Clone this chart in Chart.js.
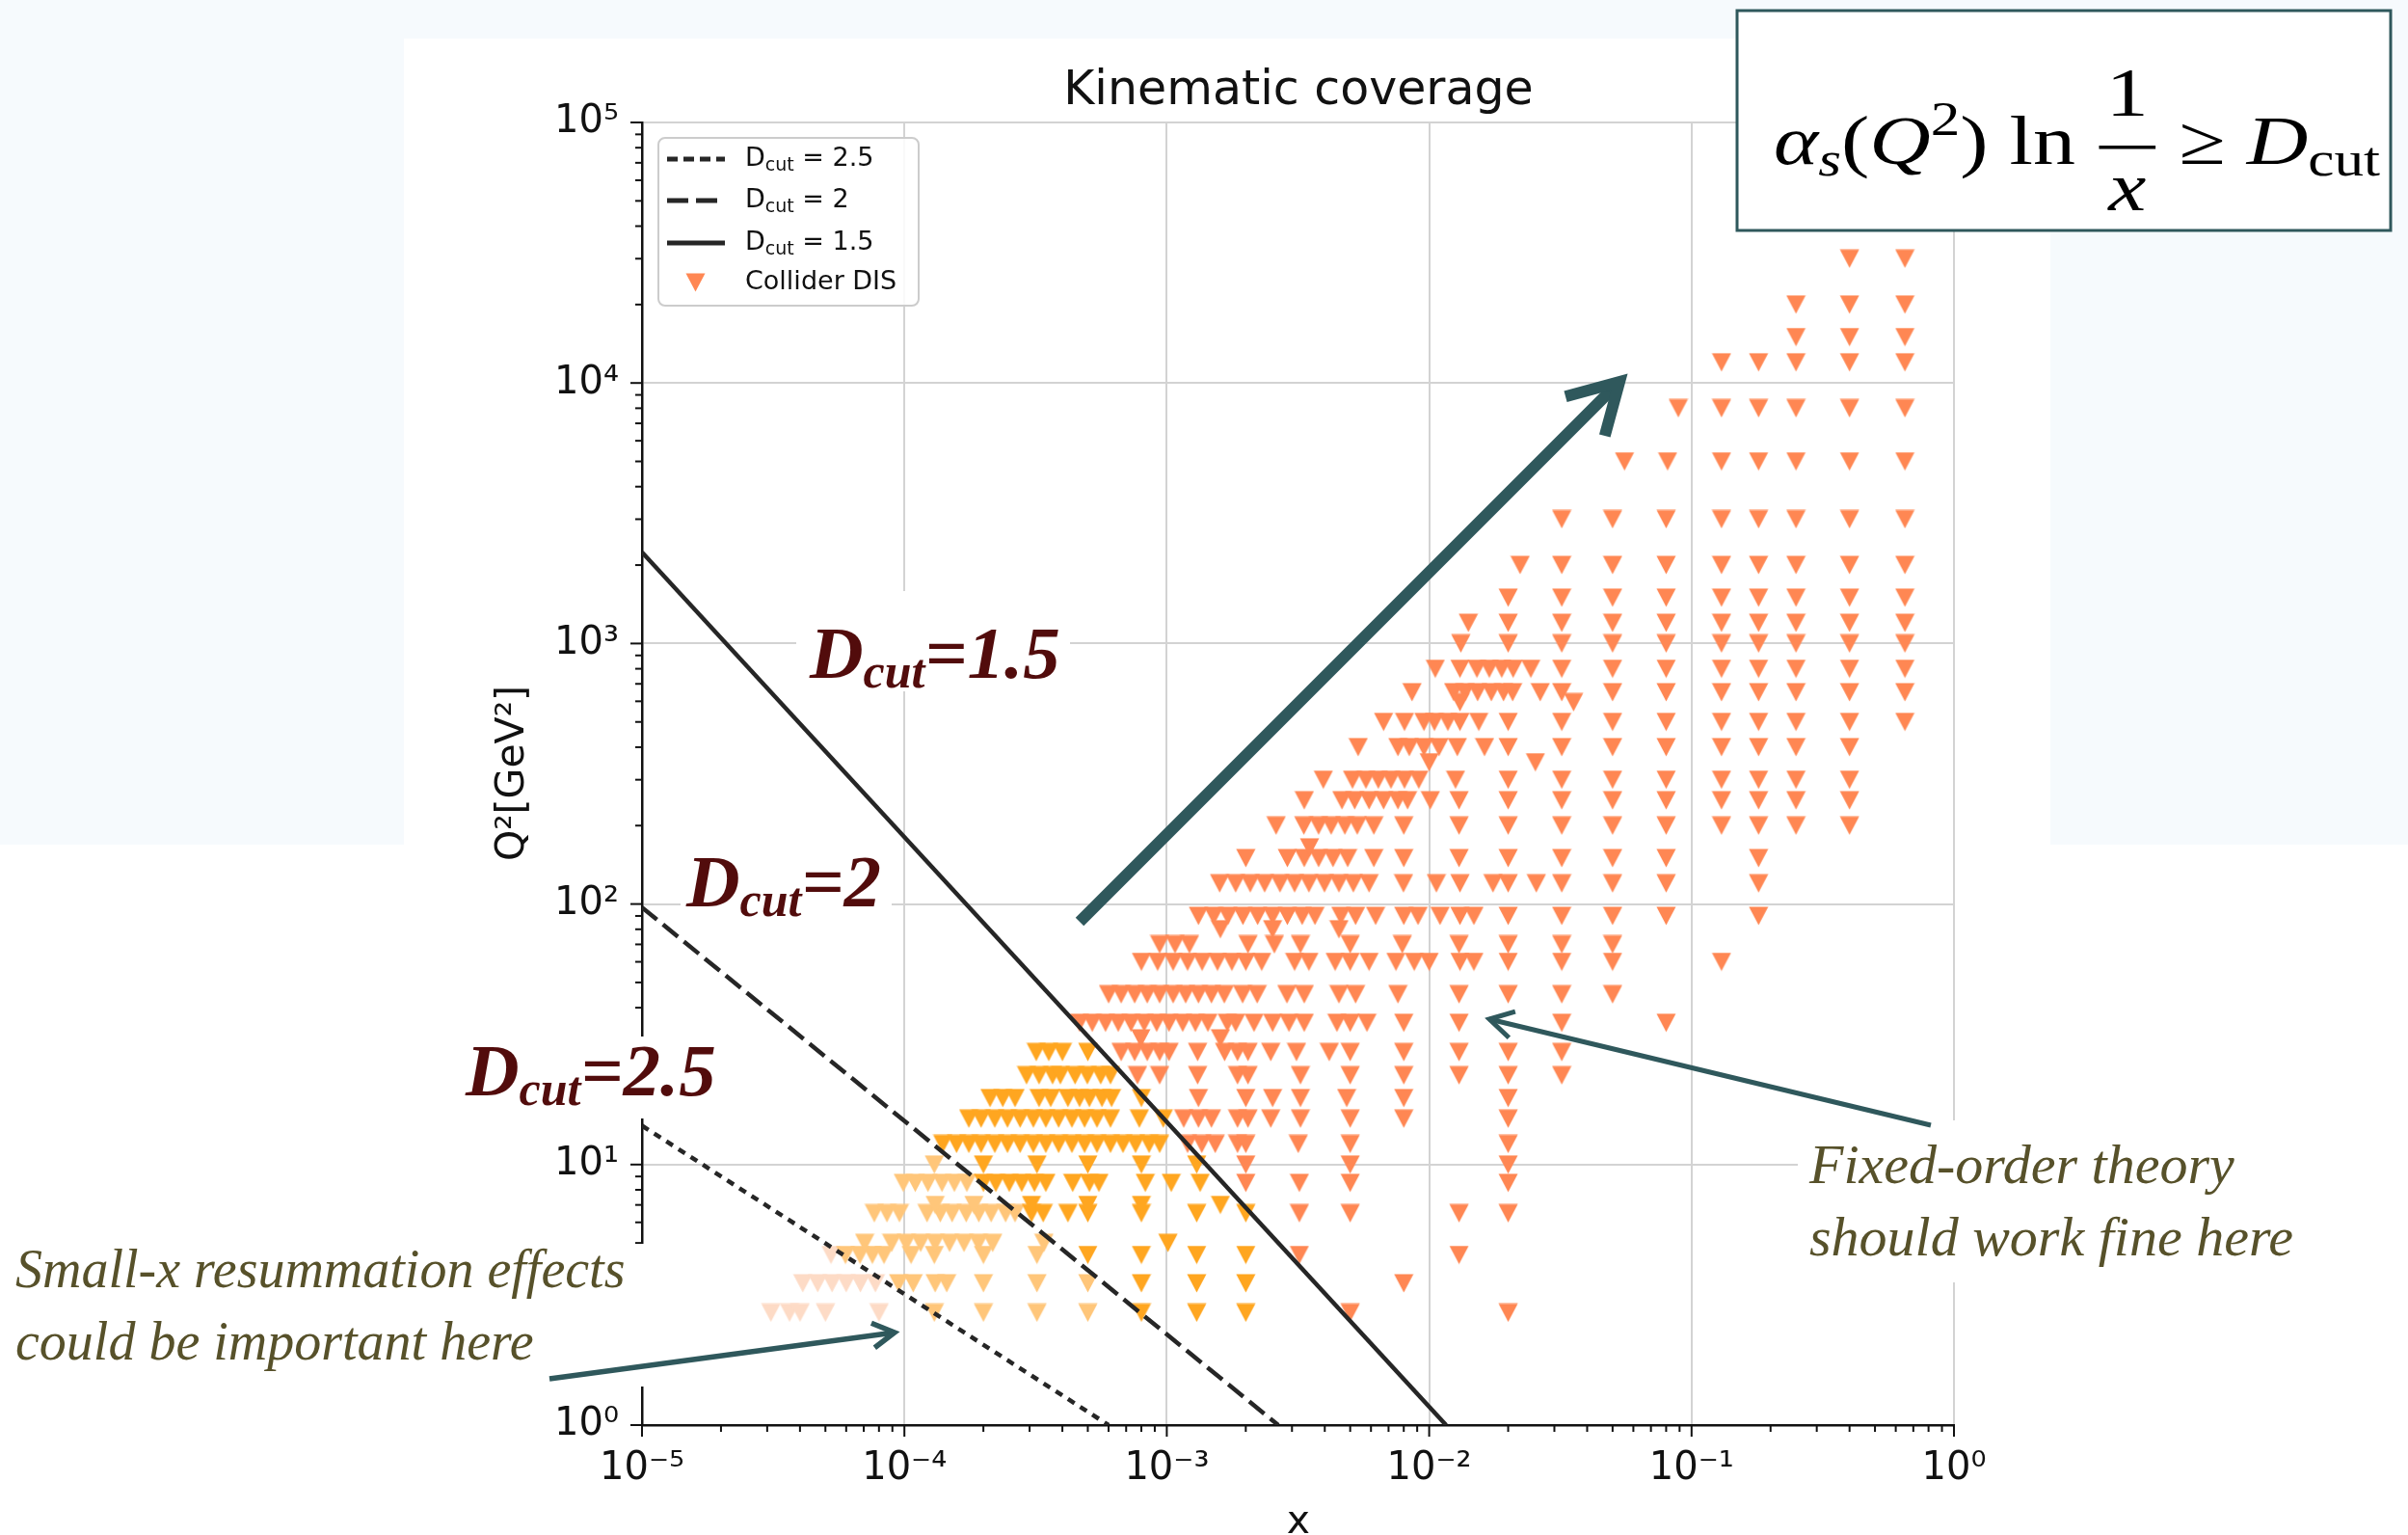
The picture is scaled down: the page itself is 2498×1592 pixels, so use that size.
<!DOCTYPE html>
<html>
<head>
<meta charset="utf-8">
<title>Kinematic coverage</title>
<script src="https://cdn.jsdelivr.net/npm/chart.js@4.4.1/dist/chart.umd.min.js"></script>
<style>
  html, body { margin: 0; padding: 0; background: #ffffff; }
  canvas { display: block; }
</style>
</head>
<body>
<canvas id="kinChart" width="2498" height="1592"></canvas>
<script>
// Q2 bins (GeV^2) and the x values of the collider DIS points in each bin
const q2Bins = [2.7, 3.5, 4.5, 5, 6.5, 7, 8.5, 10, 12, 15, 18, 22, 27, 35, 45, 60, 70, 90, 120, 150,
  200, 250, 300, 400, 500, 650, 800, 1000, 1200, 1500, 2000, 3000, 5000, 8000, 12000, 15000, 20000, 30000];

const xQ2_2p7 = [3.1e-5, 3.65e-5, 4.0e-5, 5.0e-5, 8.0e-5, 1.3e-4, 2.0e-4, 3.2e-4, 5.0e-4, 8.0e-4, 1.3e-3, 2.0e-3, 5.0e-3, 2.0e-2];
const xQ2_3p5 = [4.1e-5, 4.67e-5, 5.3e-5, 6.0e-5, 6.8e-5, 7.75e-5, 9.5e-5, 1.08e-4, 1.31e-4, 1.45e-4, 2.0e-4, 3.2e-4, 5.0e-4, 8.0e-4, 1.3e-3, 2.0e-3, 8.0e-3];
const xQ2_4p5 = [5.25e-5, 5.96e-5, 6.77e-5, 7.55e-5, 8.36e-5, 1.06e-4, 1.3e-4, 2.0e-4, 3.2e-4, 5.0e-4, 8.0e-4, 1.3e-3, 2.0e-3, 3.2e-3, 1.3e-2];
const xQ2_5 = [7.06e-5, 8.94e-5, 1.016e-4, 1.153e-4, 1.31e-4, 1.486e-4, 1.687e-4, 1.915e-4, 2.17e-4, 3.4e-4, 1.01e-3];
const xQ2_6p5 = [7.68e-5, 8.58e-5, 9.57e-5, 1.22e-4, 1.37e-4, 1.52e-4, 1.72e-4, 1.92e-4, 2.14e-4, 2.43e-4, 2.64e-4, 3.05e-4, 3.38e-4, 4.2e-4, 5.0e-4, 8.0e-4, 1.3e-3, 2.0e-3, 3.2e-3, 5.0e-3, 1.3e-2, 2.0e-2];
const xQ2_7 = [1.31e-4, 1.84e-4, 3.05e-4, 5.0e-4, 8.0e-4, 1.6e-3];
const xQ2_8p5 = [9.9e-5, 1.10e-4, 1.23e-4, 1.39e-4, 1.55e-4, 1.73e-4, 2.0e-4, 2.23e-4, 2.51e-4, 2.8e-4, 3.13e-4, 3.46e-4, 4.38e-4, 5.07e-4, 5.51e-4, 8.28e-4, 1.04e-3, 1.34e-3, 2.0e-3, 3.2e-3, 5.0e-3, 2.0e-2];
const xQ2_10 = [1.3e-4, 2.0e-4, 3.2e-4, 5.0e-4, 8.0e-4, 1.3e-3, 2.0e-3, 5.0e-3, 2.0e-2];
const xQ2_12 = [1.40e-4, 1.58e-4, 1.76e-4, 1.96e-4, 2.21e-4, 2.47e-4, 2.76e-4, 3.10e-4, 3.46e-4, 3.87e-4, 4.35e-4, 4.86e-4, 5.42e-4, 6.1e-4, 6.81e-4, 7.6e-4, 8.56e-4, 9.39e-4, 1.20e-3, 1.36e-3, 1.53e-3, 1.86e-3, 2.0e-3, 3.17e-3, 5.0e-3, 2.0e-2];
const xQ2_15 = [1.76e-4, 1.96e-4, 2.21e-4, 2.47e-4, 2.76e-4, 3.10e-4, 3.46e-4, 3.87e-4, 4.35e-4, 4.86e-4, 5.42e-4, 6.1e-4, 7.86e-4, 9.7e-4, 1.16e-3, 1.32e-3, 1.48e-3, 1.86e-3, 2.04e-3, 2.49e-3, 3.23e-3, 5.0e-3, 8.0e-3, 2.0e-2];
const xQ2_18 = [2.12e-4, 2.37e-4, 2.64e-4, 3.26e-4, 3.61e-4, 4.2e-4, 4.65e-4, 5.07e-4, 5.66e-4, 6.16e-4, 8.0e-4, 1.32e-3, 2.0e-3, 2.53e-3, 3.23e-3, 4.85e-3, 8.0e-3, 2.0e-2];
const xQ2_22 = [2.92e-4, 3.26e-4, 3.67e-4, 3.93e-4, 4.47e-4, 4.98e-4, 5.6e-4, 6.1e-4, 7.73e-4, 9.39e-4, 1.31e-3, 1.86e-3, 2.04e-3, 3.23e-3, 5.0e-3, 8.0e-3, 1.3e-2, 2.0e-2, 3.2e-2];
const xQ2_27 = [3.18e-4, 3.55e-4, 4.0e-4, 5.0e-4, 6.7e-4, 7.54e-4, 8.42e-4, 9.39e-4, 1.02e-3, 1.31e-3, 1.66e-3, 1.86e-3, 2.04e-3, 2.49e-3, 3.12e-3, 4.16e-3, 5.0e-3, 8.0e-3, 1.3e-2, 2.0e-2, 3.2e-2];
const xQ2_35 = [4.65e-4, 5.2e-4, 5.84e-4, 6.53e-4, 7.3e-4, 8.2e-4, 9.15e-4, 1.02e-3, 1.15e-3, 1.285e-3, 1.434e-3, 1.70e-3, 1.83e-3, 2.15e-3, 2.53e-3, 2.92e-3, 3.34e-3, 4.45e-3, 5.0e-3, 5.79e-3, 8.0e-3, 1.3e-2, 3.2e-2, 8.0e-2];
const xQ2_45 = [6.0e-4, 6.7e-4, 7.54e-4, 8.42e-4, 9.39e-4, 1.057e-3, 1.18e-3, 1.32e-3, 1.48e-3, 1.656e-3, 1.945e-3, 2.21e-3, 2.87e-3, 3.34e-3, 4.53e-3, 5.24e-3, 7.6e-3, 1.3e-2, 2.0e-2, 3.2e-2, 5.0e-2];
const xQ2_60 = [8.0e-4, 9.23e-4, 1.057e-3, 1.20e-3, 1.363e-3, 1.56e-3, 1.77e-3, 2.0e-3, 2.30e-3, 3.07e-3, 3.48e-3, 4.38e-3, 5.0e-3, 5.9e-3, 7.47e-3, 8.77e-3, 1.0e-2, 1.31e-2, 1.48e-2, 2.0e-2, 3.2e-2, 5.0e-2, 0.13];
const xQ2_70 = [9.39e-4, 1.075e-3, 1.22e-3, 2.04e-3, 2.57e-3, 3.23e-3, 5.0e-3, 7.9e-3, 1.3e-2, 2.0e-2, 3.2e-2, 5.0e-2];
const xQ2_90 = [1.32e-3, 1.51e-3, 1.71e-3, 1.95e-3, 2.22e-3, 2.53e-3, 2.88e-3, 3.28e-3, 3.67e-3, 4.61e-3, 5.24e-3, 6.25e-3, 8.0e-3, 9.07e-3, 1.10e-2, 1.31e-2, 1.48e-2, 2.0e-2, 3.2e-2, 5.0e-2, 8.0e-2, 0.18];
const xQ2_120 = [1.59e-3, 1.83e-3, 2.08e-3, 2.36e-3, 2.70e-3, 3.07e-3, 3.48e-3, 3.99e-3, 4.53e-3, 5.14e-3, 5.9e-3, 7.98e-3, 1.065e-2, 1.31e-2, 1.75e-2, 2.0e-2, 2.56e-2, 3.2e-2, 5.0e-2, 8.0e-2, 0.18];
const xQ2_150 = [2.0e-3, 2.88e-3, 3.34e-3, 3.79e-3, 4.3e-3, 4.89e-3, 6.15e-3, 8.0e-3, 1.3e-2, 2.0e-2, 3.2e-2, 5.0e-2, 8.0e-2, 0.18];
const xQ2_200 = [2.61e-3, 3.33e-3, 3.79e-3, 4.23e-3, 4.77e-3, 5.32e-3, 6.15e-3, 8.0e-3, 1.3e-2, 2.0e-2, 3.2e-2, 5.0e-2, 8.0e-2, 0.13, 0.18, 0.25, 0.40];
const xQ2_250 = [3.34e-3, 4.65e-3, 5.2e-3, 5.9e-3, 6.7e-3, 7.6e-3, 8.27e-3, 1.01e-2, 1.3e-2, 2.0e-2, 3.2e-2, 5.0e-2, 8.0e-2, 0.13, 0.18, 0.25, 0.40];
const xQ2_300 = [3.95e-3, 5.1e-3, 5.74e-3, 6.4e-3, 7.15e-3, 8.05e-3, 9.13e-3, 1.26e-2, 2.0e-2, 3.2e-2, 5.0e-2, 8.0e-2, 0.13, 0.18, 0.25, 0.40];
const xQ2_400 = [5.36e-3, 7.6e-3, 8.4e-3, 9.55e-3, 1.09e-2, 1.28e-2, 1.625e-2, 2.0e-2, 3.2e-2, 5.0e-2, 8.0e-2, 0.13, 0.18, 0.25, 0.40];
const xQ2_500 = [6.7e-3, 8.05e-3, 9.55e-3, 1.047e-2, 1.178e-2, 1.31e-2, 1.545e-2, 2.0e-2, 3.2e-2, 5.0e-2, 8.0e-2, 0.13, 0.18, 0.25, 0.40, 0.65];
const xQ2_650 = [8.6e-3, 1.24e-2, 1.37e-2, 1.53e-2, 1.725e-2, 1.92e-2, 2.08e-2, 2.65e-2, 3.2e-2, 5.0e-2, 8.0e-2, 0.13, 0.18, 0.25, 0.40, 0.65];
const xQ2_800 = [1.055e-2, 1.31e-2, 1.52e-2, 1.695e-2, 1.89e-2, 2.09e-2, 2.44e-2, 3.2e-2, 5.0e-2, 8.0e-2, 0.13, 0.18, 0.25, 0.40, 0.65];
const xQ2_1000 = [1.32e-2, 2.0e-2, 3.2e-2, 5.0e-2, 8.0e-2, 0.13, 0.18, 0.25, 0.40, 0.65];
const xQ2_1200 = [1.41e-2, 2.0e-2, 3.2e-2, 5.0e-2, 8.0e-2, 0.13, 0.18, 0.25, 0.40, 0.65];
const xQ2_1500 = [2.0e-2, 3.2e-2, 5.0e-2, 8.0e-2, 0.13, 0.18, 0.25, 0.40, 0.65];
const xQ2_2000 = [2.22e-2, 3.2e-2, 5.0e-2, 8.0e-2, 0.13, 0.18, 0.25, 0.40, 0.65];
const xQ2_3000 = [3.2e-2, 5.0e-2, 8.0e-2, 0.13, 0.18, 0.25, 0.40, 0.65];
const xQ2_5000 = [5.55e-2, 8.1e-2, 0.13, 0.18, 0.25, 0.40, 0.65];
const xQ2_8000 = [8.9e-2, 0.13, 0.18, 0.25, 0.40, 0.65];
const xQ2_12000 = [0.13, 0.18, 0.25, 0.40, 0.65];
const xQ2_15000 = [0.25, 0.40, 0.65];
const xQ2_20000 = [0.25, 0.40, 0.65];
const xQ2_30000 = [0.40, 0.65];

const xByBin = [xQ2_2p7, xQ2_3p5, xQ2_4p5, xQ2_5, xQ2_6p5, xQ2_7, xQ2_8p5, xQ2_10, xQ2_12, xQ2_15, xQ2_18,
  xQ2_22, xQ2_27, xQ2_35, xQ2_45, xQ2_60, xQ2_70, xQ2_90, xQ2_120, xQ2_150, xQ2_200, xQ2_250, xQ2_300,
  xQ2_400, xQ2_500, xQ2_650, xQ2_800, xQ2_1000, xQ2_1200, xQ2_1500, xQ2_2000, xQ2_3000, xQ2_5000,
  xQ2_8000, xQ2_12000, xQ2_15000, xQ2_20000, xQ2_30000];

// a few points that sit off the main bins
const xExtra = [1.0e-2, 2.54e-2, 1.31e-2, 3.55e-2, 3.5e-3, 1.6e-3, 2.53e-3, 4.53e-3, 1.6e-3, 7.96e-4];
const q2Extra = [350, 350, 595, 595, 165, 80, 80, 80, 30.5, 30.5];

// D_cut lines, end points
const dcutNames = ['2.5', '2', '1.5'];
const dcut25X = [1e-5, 6.0e-4], dcut25Q2 = [14.1, 1];
const dcut2X = [1e-5, 2.66e-3], dcut2Q2 = [97, 1];
const dcut15X = [1e-5, 1.16e-2], dcut15Q2 = [2240, 1];

const W = 2498, H = 1592;
const TEAL = '#2f585c';
const LINE_COL = '#262626';
const TINT = '#f6fafd';
const markerCols = ['#fddbc6', '#ffc67a', '#ffa620', '#ff8753'];

function isDecade(v) {
  const e = Math.log10(v);
  return Math.abs(e - Math.round(e)) < 1e-6;
}
const SUP = { '-': '\u207B', '0': '\u2070', '1': '\u00B9', '2': '\u00B2', '3': '\u00B3', '4': '\u2074', '5': '\u2075' };
function powLabel(v) {
  const e = String(Math.round(Math.log10(v)));
  return '10' + e.split('').map(c => SUP[c]).join('');
}

function triangle(color) {
  const c = document.createElement('canvas');
  c.width = 21; c.height = 20;
  const g = c.getContext('2d');
  g.fillStyle = color;
  g.beginPath();
  g.moveTo(0.5, 0.5); g.lineTo(20.5, 0.5); g.lineTo(10.5, 19.5);
  g.closePath(); g.fill();
  return c;
}
const markers = markerCols.map(triangle);

// which side of the cut lines a point falls on
function lineLogQ(xs, qs, lx) {
  const x0 = Math.log10(xs[0]), x1 = Math.log10(xs[1]);
  const q0 = Math.log10(qs[0]), q1 = Math.log10(qs[1]);
  return q0 + (q1 - q0) * (lx - x0) / (x1 - x0);
}
function region(p) {
  const lx = Math.log10(p.x), lq = Math.log10(p.y);
  if (lq < lineLogQ(dcut25X, dcut25Q2, lx)) return 0;
  if (lq < lineLogQ(dcut2X, dcut2Q2, lx)) return 1;
  if (lq < lineLogQ(dcut15X, dcut15Q2, lx)) return 2;
  return 3;
}

const disPoints = [];
q2Bins.forEach((q2, i) => xByBin[i].forEach(x => disPoints.push({ x: x, y: q2 })));
xExtra.forEach((x, i) => disPoints.push({ x: x, y: q2Extra[i] }));

function lineSet(xs, qs, dash, name) {
  return {
    label: 'D_cut = ' + name,
    data: [{ x: xs[0], y: qs[0] }, { x: xs[1], y: qs[1] }],
    showLine: true, borderColor: LINE_COL, borderWidth: 4.5, borderDash: dash,
    pointRadius: 0, fill: false, order: 0
  };
}

function arrow(g, x0, y0, x1, y1, lw, head) {
  const a = Math.atan2(y0 - y1, x0 - x1);
  g.save();
  g.strokeStyle = TEAL; g.lineWidth = lw; g.lineCap = 'butt'; g.lineJoin = 'miter';
  g.beginPath(); g.moveTo(x0, y0); g.lineTo(x1, y1); g.stroke();
  g.beginPath();
  g.moveTo(x1 + head * Math.cos(a + 0.52), y1 + head * Math.sin(a + 0.52));
  g.lineTo(x1, y1);
  g.lineTo(x1 + head * Math.cos(a - 0.52), y1 + head * Math.sin(a - 0.52));
  g.stroke();
  g.restore();
}

function runs(g, x, y, parts) {
  for (const p of parts) {
    g.font = p[1];
    g.fillText(p[0], x, y + (p[2] || 0));
    x += g.measureText(p[0]).width;
  }
  return x;
}

const overlay = {
  id: 'overlay',
  beforeDraw(chart) {
    const g = chart.ctx;
    g.save();
    g.fillStyle = '#ffffff'; g.fillRect(0, 0, W, H);
    // slide tint around the upper part of the figure
    g.fillStyle = TINT;
    g.fillRect(0, 0, W, 40);
    g.fillRect(0, 0, 419, 876);
    g.fillRect(2127, 0, W - 2127, 876);
    g.restore();
  },
  afterDraw(chart) {
    const g = chart.ctx;
    const xs = chart.scales.x, ys = chart.scales.y;
    const a = chart.chartArea;
    g.save();

    // tick marks, long at decades and short in between
    g.strokeStyle = '#111'; g.lineWidth = 2;
    for (let e = -5; e <= 0; e++) {
      for (let m = 1; m <= 9; m++) {
        const v = m * Math.pow(10, e);
        if (v > 1.0000001) break;
        const px = xs.getPixelForValue(v);
        g.beginPath(); g.moveTo(px, a.bottom); g.lineTo(px, a.bottom + (m === 1 ? 12 : 7)); g.stroke();
      }
    }
    for (let e = 0; e <= 5; e++) {
      for (let m = 1; m <= 9; m++) {
        const v = m * Math.pow(10, e);
        if (v > 100001) break;
        const py = ys.getPixelForValue(v);
        g.beginPath(); g.moveTo(a.left, py); g.lineTo(a.left - (m === 1 ? 12 : 7), py); g.stroke();
      }
    }

    // title and axis titles
    g.fillStyle = '#111';
    g.textAlign = 'center'; g.textBaseline = 'alphabetic';
    g.font = '49px "DejaVu Sans"';
    g.fillText('Kinematic coverage', 1347, 108);
    g.font = '41px "DejaVu Sans"';
    g.fillText('x', 1347, 1590);
    g.save();
    g.translate(543, 802); g.rotate(-Math.PI / 2);
    g.fillText('Q\u00B2[GeV\u00B2]', 0, 0);
    g.restore();

    // legend
    g.save();
    g.fillStyle = 'rgba(255,255,255,0.85)'; g.strokeStyle = '#cccccc'; g.lineWidth = 2;
    g.beginPath(); g.roundRect(683, 143, 270, 174, 7); g.fill(); g.stroke();
    const rowsY = [165, 208, 252];
    const dashes = [[11, 6], [22, 8], []];
    g.strokeStyle = LINE_COL; g.lineWidth = 5;
    rowsY.forEach((y, i) => {
      g.setLineDash(dashes[i]);
      g.beginPath(); g.moveTo(692, y); g.lineTo(752, y); g.stroke();
    });
    g.setLineDash([]);
    g.drawImage(markers[3], 711, 283);
    g.fillStyle = '#111'; g.textAlign = 'left'; g.textBaseline = 'middle';
    rowsY.forEach((y, i) => {
      runs(g, 773, y, [['D', '27px "DejaVu Sans"'], ['cut', '19px "DejaVu Sans"', 7], [' = ' + dcutNames[i], '27px "DejaVu Sans"']]);
    });
    g.font = '27px "DejaVu Sans"';
    g.fillText('Collider DIS', 773, 293);
    g.restore();

    // white text boxes of the slide
    g.fillStyle = '#ffffff';
    [[826, 613, 284, 104], [706, 884, 219, 88], [478, 1075, 264, 85], [1865, 1162, 560, 168], [0, 1290, 672, 148]]
      .forEach(b => g.fillRect(b[0], b[1], b[2], b[3]));

    g.textAlign = 'left'; g.textBaseline = 'alphabetic';
    g.fillStyle = '#520c0c';
    const bi = 'bold italic 77px "Liberation Serif"', bis = 'bold italic 50px "Liberation Serif"';
    runs(g, 840, 703, [['D', bi], ['cut', bis, 10], ['=1.5', bi]]);
    runs(g, 712, 940, [['D', bi], ['cut', bis, 10], ['=2', bi]]);
    runs(g, 483, 1136, [['D', bi], ['cut', bis, 10], ['=2.5', bi]]);

    g.fillStyle = '#57512a';
    g.font = 'italic 58px "Liberation Serif"';
    g.fillText('Fixed-order theory', 1877, 1227);
    g.fillText('should work fine here', 1877, 1302);
    g.font = 'italic 56px "Liberation Serif"';
    g.fillText('Small-x resummation effects', 16, 1335);
    g.fillText('could be important here', 16, 1410);

    // arrows
    arrow(g, 1120, 956, 1680, 396, 12, 58);
    arrow(g, 2003, 1167, 1545, 1057, 5, 28);
    arrow(g, 570, 1430, 928, 1382, 5.5, 26);

    // formula box
    g.fillStyle = '#ffffff'; g.fillRect(1802, 11, 678, 228);
    g.strokeStyle = TEAL; g.lineWidth = 3; g.strokeRect(1802, 11, 678, 228);
    const it = 'italic 72px "Liberation Serif"', rm = '72px "Liberation Serif"';
    const its = 'italic 50px "Liberation Serif"', rms = '50px "Liberation Serif"';
    g.fillStyle = '#000';
    const pieces = [['\u03B1', it, 0], ['s', its, 12], ['(', rm, 0], ['Q', it, 0], ['2', rms, -30], [')', rm, 0],
      [' ln ', rm, 0], ['FRAC'], [' \u2265 ', rm, 0], ['D', it, 0], ['cut', rms, 12]];
    g.font = rm;
    const fracW = g.measureText('1').width + 16;
    let total = 0;
    pieces.forEach(p => { if (p[0] === 'FRAC') total += fracW; else { g.font = p[1]; total += g.measureText(p[0]).width; } });
    const sx = 629 / total;
    g.save();
    g.translate(1840, 0); g.scale(sx, 1);
    let cx = 0;
    pieces.forEach(p => {
      if (p[0] === 'FRAC') {
        g.textAlign = 'center';
        g.font = rm; g.fillText('1', cx + fracW / 2, 120);
        g.fillRect(cx + 2, 151, fracW - 4, 3.5);
        g.font = it; g.fillText('x', cx + fracW / 2, 218);
        g.textAlign = 'left';
        cx += fracW;
      } else {
        g.font = p[1]; g.fillText(p[0], cx, 170 + p[2]);
        cx += g.measureText(p[0]).width;
      }
    });
    g.restore();

    g.restore();
  }
};

new Chart(document.getElementById('kinChart'), {
  type: 'scatter',
  data: {
    datasets: [
      lineSet(dcut25X, dcut25Q2, [8, 7], dcutNames[0]),
      lineSet(dcut2X, dcut2Q2, [20, 8], dcutNames[1]),
      lineSet(dcut15X, dcut15Q2, [], dcutNames[2]),
      {
        label: 'Collider DIS',
        data: disPoints,
        pointStyle: c => markers[region(c.raw)],
        pointRadius: 10,
        order: 1
      }
    ]
  },
  options: {
    responsive: false,
    animation: false,
    devicePixelRatio: 1,
    events: [],
    layout: { padding: { left: 480, right: 471, top: 127, bottom: 0 } },
    scales: {
      x: {
        type: 'logarithmic', min: 1e-5, max: 1,
        afterFit: s => { s.height = 114; },
        grid: { color: c => isDecade(c.tick.value) ? '#d3d3d3' : 'rgba(0,0,0,0)', lineWidth: 2, drawTicks: false },
        border: { display: true, color: '#111', width: 2.5 },
        ticks: {
          autoSkip: false, maxRotation: 0, minRotation: 0, padding: 22, color: '#111',
          font: { family: 'DejaVu Sans', size: 40 },
          callback: v => isDecade(v) ? powLabel(v) : ''
        }
      },
      y: {
        type: 'logarithmic', min: 1, max: 1e5,
        afterFit: s => { s.width = 186; },
        grid: { color: c => isDecade(c.tick.value) ? '#d3d3d3' : 'rgba(0,0,0,0)', lineWidth: 2, drawTicks: false },
        border: { display: true, color: '#111', width: 2.5 },
        ticks: {
          autoSkip: false, padding: 24, color: '#111',
          font: { family: 'DejaVu Sans', size: 40 },
          callback: v => isDecade(v) ? powLabel(v) : ''
        }
      }
    },
    plugins: { legend: { display: false }, tooltip: { enabled: false } }
  },
  plugins: [overlay]
});
</script>
</body>
</html>
